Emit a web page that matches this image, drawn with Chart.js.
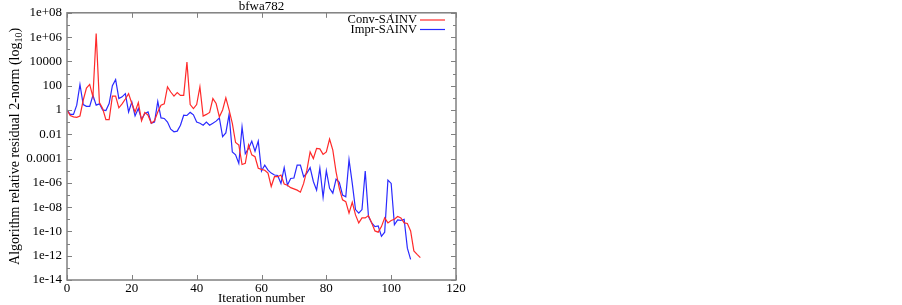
<!DOCTYPE html>
<html>
<head>
<meta charset="utf-8">
<script src="https://cdn.jsdelivr.net/npm/chart.js@4.4.1/dist/chart.umd.min.js"></script>
<style>
  html, body { margin: 0; padding: 0; background: #fff; }
  #wrap { width: 902px; height: 305px; }
</style>
</head>
<body>
<div id="wrap"><canvas id="chart"></canvas></div>
<script>
// residual norms per iteration
const convSainv = [
  1, 3.5e-1, 2.7e-1, 2.5e-1, 3.2e-1, 6.3, 63, 126, 12, 2e6,
  4, 1.3, 1.6e-1, 1.6e-1, 14, 14, 1.5, 3.2, 8, 22,
  3.4, 6.9e-1, 4, 1.3e-1, 6.3e-1, 3.7e-1, 8e-2, 1.3e-1, 6.9e-1, 2.5,
  3.2, 80, 30, 14, 27, 16, 16, 8700, 2.8, 1.3,
  2.8, 80, 3.2e-1, 4.3e-1, 6.3e-1, 8.7, 3.4, 2.7e-1, 1, 9.8,
  1, 8e-2, 2.1e-3, 1.3e-3, 3.2e-5, 4e-5, 1.3e-3, 2e-4, 1.4e-4, 1.6e-5,
  1.3e-5, 1.1e-5, 6.3e-6, 5e-7, 3.2e-6, 3.2e-6, 4.4e-6, 8e-7, 6.3e-7, 4e-7,
  3.2e-7, 2.5e-7, 1.7e-7, 9e-7, 1.1e-5, 3.5e-4, 1e-4, 6.8e-4, 6.3e-4, 2.2e-4,
  3.5e-4, 4e-3, 5e-4, 8e-6, 3.5e-7, 4e-8, 2.8e-8, 3.2e-9, 2.5e-8, 2.3e-9,
  5e-10, 1.3e-9, 1.3e-9, 2e-9, 5e-10, 1.1e-10, 8.7e-11, 2.5e-10, 1.3e-9, 5e-10,
  8e-10, 1e-9, 1.7e-9, 1.3e-9, 5e-10, 4.5e-10, 1.1e-10, 2.5e-12, 1.3e-12, 7e-13
];
const imprSainv = [
  1, 4.3e-1, 4.3e-1, 2.5, 126, 2.8, 2, 2, 16, 2.5,
  3.2, 1, 0.9, 3.4, 100, 316, 8.7, 12, 22, 6.9e-1,
  4.5, 3.2e-1, 1.3, 1.7e-1, 5e-1, 6.9e-1, 8e-2, 1e-1, 5, 2.2e-1,
  2e-1, 1e-1, 2.6e-2, 1.6e-2, 1.8e-2, 5.6e-2, 3.7e-1, 3.5e-1, 6.3e-1, 4e-1,
  1e-1, 8e-2, 5.6e-2, 1e-1, 5.6e-2, 8e-2, 1.2e-1, 2.2e-1, 6.3e-3, 1.3e-2,
  4.3e-1, 3.5e-4, 2e-4, 4e-5, 4e-2, 2.5e-4, 6.8e-4, 2.7e-3, 4e-4, 2.7e-3,
  9.3e-6, 2.9e-5, 1.1e-5, 6.3e-6, 4.4e-6, 4e-6, 9e-7, 1.8e-5, 6.6e-7, 2.3e-6,
  2.5e-6, 2.9e-5, 2.9e-5, 3.2e-6, 6.3e-6, 1.8e-5, 1.3e-6, 2.5e-7, 1.6e-5, 6.3e-8,
  1e-5, 3.5e-7, 1.4e-7, 2e-6, 1.1e-6, 1e-7, 7.2e-8, 8e-5, 9e-7, 6.3e-9,
  3.2e-9, 6.3e-9, 9.3e-6, 1.7e-9, 5e-10, 2.5e-10, 2.8e-10, 4e-11, 8.7e-11, 1.7e-6,
  9e-7, 3.5e-10, 9e-10, 8e-10, 1e-9, 4.2e-12, 5e-13
];

const xTicks = [0, 20, 40, 60, 80, 100, 120];
const yTicks = [
  1e-14, 1e-13, 1e-12, 1e-11, 1e-10, 1e-9, 1e-8, 1e-7, 1e-6, 1e-5, 1e-4, 1e-3,
  1e-2, 1e-1, 1, 10, 100, 1e3, 1e4, 1e5, 1e6, 1e7, 1e8
];
const yTickLabels = [
  '1e-14', '', '1e-12', '', '1e-10', '', '1e-08', '', '1e-06', '', '0.0001', '',
  '0.01', '', '1', '', '100', '', '10000', '', '1e+06', '', '1e+08'
];

const FONT = '"Liberation Serif", "DejaVu Serif", serif';
const RED = '#ff2a2a';
const BLUE = '#2a2aff';

function toPoints(arr) {
  return arr.map((v, i) => ({ x: i, y: v }));
}

// box, inward ticks, titles, legend
const framePlugin = {
  id: 'frame',
  afterDraw(chart) {
    const { ctx, chartArea: a, scales: { x, y } } = chart;
    ctx.save();
    ctx.strokeStyle = '#808080';
    ctx.lineWidth = 1.5;
    ctx.strokeRect(a.left, a.top, a.right - a.left, a.bottom - a.top);

    ctx.beginPath();
    xTicks.forEach(v => {
      const px = Math.round(x.getPixelForValue(v)) + 0.5;
      ctx.moveTo(px, a.bottom); ctx.lineTo(px, a.bottom - 5);
      ctx.moveTo(px, a.top); ctx.lineTo(px, a.top + 5);
    });
    yTicks.forEach((v, i) => {
      const py = Math.round(y.getPixelForValue(v)) + 0.5;
      const len = yTickLabels[i] ? 5 : 3;
      ctx.moveTo(a.left, py); ctx.lineTo(a.left + len, py);
      ctx.moveTo(a.right, py); ctx.lineTo(a.right - len, py);
    });
    ctx.lineWidth = 1;
    ctx.stroke();

    ctx.fillStyle = '#000';
    ctx.font = '13px ' + FONT;
    ctx.textAlign = 'center';
    ctx.textBaseline = 'middle';
    ctx.fillText('bfwa782', (a.left + a.right) / 2, 6.5);
    ctx.fillText('Iteration number', (a.left + a.right) / 2, 298.5);

    // rotated y title with subscript
    ctx.save();
    ctx.translate(15, (a.top + a.bottom) / 2);
    ctx.rotate(-Math.PI / 2);
    const main = 'Algorithm relative residual 2-norm (log';
    ctx.font = '14px ' + FONT;
    const w1 = ctx.measureText(main).width;
    ctx.font = '10px ' + FONT;
    const w2 = ctx.measureText('10').width;
    ctx.font = '14px ' + FONT;
    const w3 = ctx.measureText(')').width;
    const sx = -(w1 + w2 + w3) / 2;
    ctx.textAlign = 'left';
    ctx.fillText(main, sx, 0);
    ctx.font = '10px ' + FONT;
    ctx.fillText('10', sx + w1, 4);
    ctx.font = '14px ' + FONT;
    ctx.fillText(')', sx + w1 + w2, 0);
    ctx.restore();

    // legend
    ctx.font = '12.5px ' + FONT;
    ctx.textAlign = 'right';
    const rows = [['Conv-SAINV', RED, 20], ['Impr-SAINV', BLUE, 29.5]];
    rows.forEach(([label, color, ly]) => {
      ctx.fillStyle = '#000';
      ctx.fillText(label, 417, ly);
      ctx.strokeStyle = color;
      ctx.lineWidth = 1.2;
      ctx.beginPath();
      ctx.moveTo(420, ly); ctx.lineTo(445, ly);
      ctx.stroke();
    });
    ctx.restore();
  }
};

new Chart(document.getElementById('chart'), {
  type: 'line',
  data: {
    datasets: [{
      label: 'Conv-SAINV',
      data: toPoints(convSainv),
      borderColor: RED,
      borderWidth: 1.2,
      pointRadius: 0,
      tension: 0,
      fill: false
    }, {
      label: 'Impr-SAINV',
      data: toPoints(imprSainv),
      borderColor: BLUE,
      borderWidth: 1.2,
      pointRadius: 0,
      tension: 0,
      fill: false
    }]
  },
  options: {
    responsive: true,
    maintainAspectRatio: false,
    animation: false,
    layout: { padding: { left: 0, top: 12, right: 446, bottom: 0 } },
    plugins: {
      legend: { display: false },
      tooltip: { enabled: false }
    },
    scales: {
      x: {
        type: 'linear',
        min: 0,
        max: 120,
        grid: { display: false, drawTicks: false },
        border: { display: false },
        afterFit: s => { s.height = 25; },
        afterBuildTicks: s => { s.ticks = xTicks.map(v => ({ value: v })); },
        ticks: {
          padding: 1,
          color: '#000',
          font: { family: FONT, size: 13 }
        }
      },
      y: {
        type: 'logarithmic',
        min: 1e-14,
        max: 1e8,
        grid: { display: false, drawTicks: false },
        border: { display: false },
        afterFit: s => { s.width = 67; },
        afterBuildTicks: s => { s.ticks = yTicks.map(v => ({ value: v })); },
        ticks: {
          padding: 5,
          color: '#000',
          autoSkip: false,
          font: { family: FONT, size: 13 },
          callback: (v, i) => yTickLabels[i]
        }
      }
    }
  },
  plugins: [framePlugin]
});
</script>
</body>
</html>
